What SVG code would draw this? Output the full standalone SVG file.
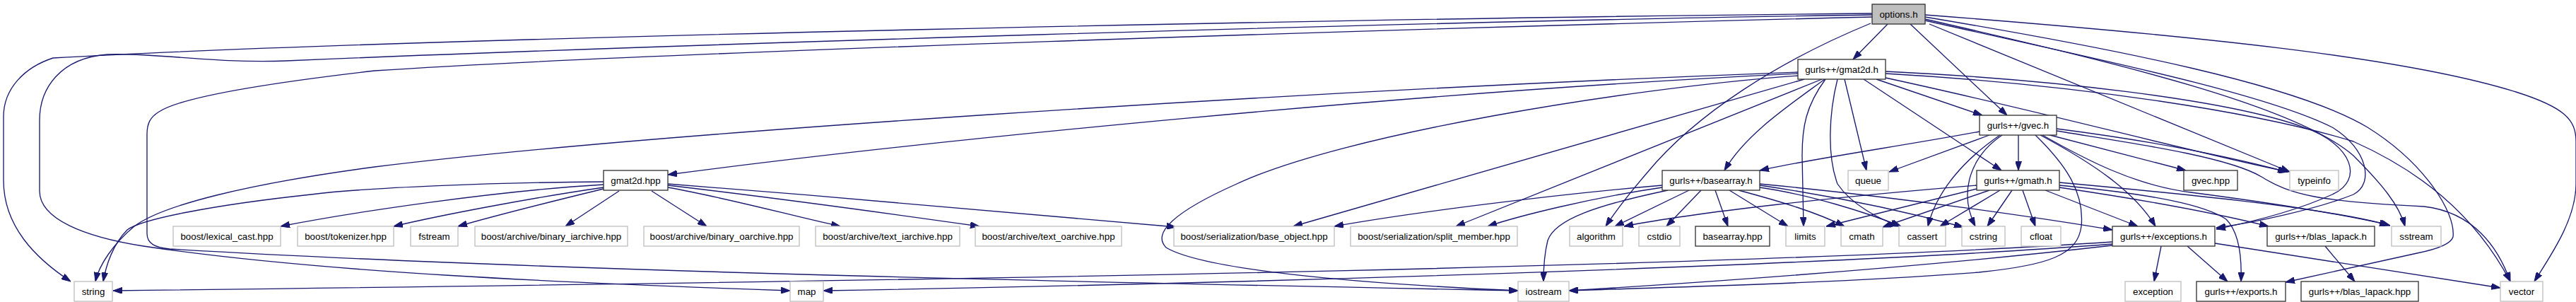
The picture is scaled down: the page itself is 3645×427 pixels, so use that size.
<svg xmlns="http://www.w3.org/2000/svg" width="3645" height="427" viewBox="0 0 3645 427">
<defs>
<marker id="ah" viewBox="0 0 13 9" refX="13" refY="4.5" markerWidth="13" markerHeight="9" markerUnits="userSpaceOnUse" orient="auto"><path d="M0,0 L13,4.5 L0,9 z" fill="#191970" stroke="#191970" stroke-width="1"/></marker>
<style>
.e path{fill:none;stroke:#191970;stroke-width:1.33;marker-end:url(#ah)}
.d rect{fill:#fff;stroke:#333;stroke-width:1.33}
.x rect{fill:#fff;stroke:#bfbfbf;stroke-width:1.33}
.r rect{fill:#bfbfbf;stroke:#333;stroke-width:1.33}
text{font-family:"Liberation Sans",Arial,Helvetica,sans-serif;font-size:13.33px;fill:#000;text-anchor:middle}
</style>
</defs>
<rect width="3645" height="427" fill="#fff"/>
<g id="edges" class="e">
<path d="M2671,34 L2622,84"/>
<path d="M2703,34 L2840,163"/>
<path d="M2647,33 C2520,85 2400,160 2330,245 C2300,280 2285,300 2272,320"/>
<path d="M2649,19 C2000,25 600,52 75,82 C35,95 5,125 5,165 L5,255 C5,320 50,365 100,398"/>
<path d="M2649,21 C2000,30 900,65 405,86 C300,90 220,74 152,77 C85,82 56,125 56,170 L56,270 C56,310 120,335 203,348 C450,385 800,400 1118,411"/>
<path d="M2649,24 C2000,40 900,75 530,100 C400,115 260,135 225,158 C212,166 208,175 208,190 L208,330 C208,345 220,350 240,352 C800,385 1600,400 2148,411"/>
<path d="M2724,21 C3100,50 3400,80 3560,130 C3630,152 3645,170 3645,200 L3645,260 C3645,310 3610,360 3586,398"/>
<path d="M2724,24 C3000,70 3250,120 3350,180 C3430,230 3475,300 3471,335 C3468,345 3450,352 3420,358 L3234,399"/>
<path d="M2724,27 C3000,90 3250,150 3330,220 C3370,260 3395,290 3403,320"/>
<path d="M2724,29 C2950,80 3200,130 3300,180 C3350,210 3360,260 3330,275 C3280,295 3190,315 3136,322"/>
<path d="M2730,34 L3240,243"/>
<path d="M2544,104 C2000,130 1300,200 945,247"/>
<path d="M2544,102 C1800,130 900,190 530,236 C350,260 230,290 190,320 C160,345 140,375 135,398"/>
<path d="M2544,107 C2300,125 1900,190 1750,260 C1660,300 1630,330 1650,350 C1700,380 1900,400 2148,411"/>
<path d="M2553,112 L1830,320"/>
<path d="M2578,112 L2060,320"/>
<path d="M2582,112 C2530,150 2470,190 2440,241"/>
<path d="M2583,112 C2555,150 2550,180 2550,220 L2552,320"/>
<path d="M2600,112 C2588,160 2585,220 2600,260 C2620,290 2660,310 2688,320"/>
<path d="M2610,112 L2641,241"/>
<path d="M2637,112 L2832,241"/>
<path d="M2655,112 L2805,163"/>
<path d="M2668,110 C2900,160 3100,215 3238,243"/>
<path d="M2668,101 C2900,112 3150,140 3260,180 C3330,205 3345,255 3300,275 C3250,298 3180,315 3136,324"/>
<path d="M2668,104 C2950,120 3200,160 3330,200 C3420,240 3500,300 3552,398"/>
<path d="M854,257 C700,258 520,265 440,275 C300,290 200,310 180,325 C160,345 150,375 146,398"/>
<path d="M854,261 C700,270 500,300 397,320"/>
<path d="M854,265 C750,280 620,305 557,320"/>
<path d="M854,267 C780,285 700,305 648,320"/>
<path d="M876,270 L800,320"/>
<path d="M922,270 L1000,320"/>
<path d="M945,265 C1030,280 1120,305 1189,320"/>
<path d="M945,262 C1100,280 1280,305 1386,320"/>
<path d="M945,260 C1200,280 1500,305 1664,321"/>
<path d="M2801,186 C2700,205 2560,225 2490,241"/>
<path d="M2815,191 L2673,243"/>
<path d="M2856,191 L2856,241"/>
<path d="M2830,191 C2780,225 2740,270 2728,320"/>
<path d="M2833,191 C2790,220 2770,270 2795,320"/>
<path d="M2880,191 C2920,230 2950,270 2945,320 C2940,360 2900,375 2800,385 C2600,400 2400,405 2220,411"/>
<path d="M2887,191 C2960,230 3020,270 3050,320"/>
<path d="M2893,189 L3093,241"/>
<path d="M2910,182 C3050,200 3150,220 3236,243"/>
<path d="M2910,185 C3000,200 3150,220 3200,250 C3240,275 3280,285 3430,292 C3500,300 3535,350 3552,398"/>
<path d="M2890,191 C2950,225 3020,262 3100,272 C3200,285 3300,300 3380,318"/>
<path d="M2352,262 C2200,275 2000,300 1888,320"/>
<path d="M2352,265 C2250,280 2150,305 2105,320"/>
<path d="M2360,269 C2260,290 2200,310 2190,340 C2185,360 2184,380 2184,398"/>
<path d="M2390,269 L2285,320"/>
<path d="M2407,269 L2358,320"/>
<path d="M2427,269 L2445,320"/>
<path d="M2447,269 L2530,320"/>
<path d="M2460,269 C2520,285 2570,300 2610,320"/>
<path d="M2490,265 C2560,275 2640,300 2690,320"/>
<path d="M2490,262 C2600,278 2700,300 2778,321"/>
<path d="M2490,260 C2700,280 2900,310 2989,325"/>
<path d="M2797,262 C2600,278 2400,300 2298,320"/>
<path d="M2797,267 L2584,320"/>
<path d="M2815,269 L2664,321"/>
<path d="M2830,269 L2745,320"/>
<path d="M2847,269 L2812,320"/>
<path d="M2862,269 L2880,320"/>
<path d="M2894,269 L3025,320"/>
<path d="M2914,258 C3100,275 3300,295 3382,319"/>
<path d="M2914,262 C3050,275 3120,290 3150,310 C3170,330 3172,370 3171,398"/>
<path d="M2914,265 C3050,285 3150,305 3210,320"/>
<path d="M3058,348 L3048,398"/>
<path d="M3095,348 L3152,398"/>
<path d="M3134,344 L3538,407"/>
<path d="M2989,342 C2500,375 1500,395 160,411"/>
<path d="M2989,345 C2600,375 1800,400 1165,411"/>
<path d="M2989,347 C2700,380 2400,400 2220,411"/>
<path d="M3290,348 L3332,398"/>
</g>
<g id="n_options" class="r"><rect x="2649" y="6" width="75" height="28"/><text x="2686.5" y="24.8">options.h</text></g>
<g id="n_gmat2d_h" class="d"><rect x="2544" y="84" width="124" height="28"/><text x="2606" y="102.8">gurls++/gmat2d.h</text></g>
<g id="n_gvec_h" class="d"><rect x="2801" y="163" width="109" height="28"/><text x="2855.5" y="181.8">gurls++/gvec.h</text></g>
<g id="n_gmat2d_hpp" class="d"><rect x="854" y="241" width="91" height="28"/><text x="899.5" y="259.8">gmat2d.hpp</text></g>
<g id="n_basearray_h" class="d"><rect x="2352" y="241" width="138" height="28"/><text x="2421" y="259.8">gurls++/basearray.h</text></g>
<g id="n_queue" class="x"><rect x="2615" y="241" width="57" height="28"/><text x="2643.5" y="259.8">queue</text></g>
<g id="n_gmath_h" class="d"><rect x="2797" y="241" width="117" height="28"/><text x="2855.5" y="259.8">gurls++/gmath.h</text></g>
<g id="n_gvec_hpp" class="d"><rect x="3090" y="241" width="76" height="28"/><text x="3128" y="259.8">gvec.hpp</text></g>
<g id="n_typeinfo" class="x"><rect x="3240" y="241" width="69" height="28"/><text x="3274.5" y="259.8">typeinfo</text></g>
<g id="n_lexical_cast" class="x"><rect x="245" y="320" width="152" height="28"/><text x="321" y="338.8">boost/lexical_cast.hpp</text></g>
<g id="n_tokenizer" class="x"><rect x="421" y="320" width="136" height="28"/><text x="489" y="338.8">boost/tokenizer.hpp</text></g>
<g id="n_fstream" class="x"><rect x="581" y="320" width="67" height="28"/><text x="614.5" y="338.8">fstream</text></g>
<g id="n_binary_iarchive" class="x"><rect x="672" y="320" width="216" height="28"/><text x="780" y="338.8">boost/archive/binary_iarchive.hpp</text></g>
<g id="n_binary_oarchive" class="x"><rect x="911" y="320" width="220" height="28"/><text x="1021" y="338.8">boost/archive/binary_oarchive.hpp</text></g>
<g id="n_text_iarchive" class="x"><rect x="1154" y="320" width="204" height="28"/><text x="1256" y="338.8">boost/archive/text_iarchive.hpp</text></g>
<g id="n_text_oarchive" class="x"><rect x="1380" y="320" width="207" height="28"/><text x="1483.5" y="338.8">boost/archive/text_oarchive.hpp</text></g>
<g id="n_base_object" class="x"><rect x="1661" y="320" width="227" height="28"/><text x="1774.5" y="338.8">boost/serialization/base_object.hpp</text></g>
<g id="n_split_member" class="x"><rect x="1911" y="320" width="236" height="28"/><text x="2029" y="338.8">boost/serialization/split_member.hpp</text></g>
<g id="n_algorithm" class="x"><rect x="2221" y="320" width="75" height="28"/><text x="2258.5" y="338.8">algorithm</text></g>
<g id="n_cstdio" class="x"><rect x="2319" y="320" width="58" height="28"/><text x="2348" y="338.8">cstdio</text></g>
<g id="n_basearray_hpp" class="d"><rect x="2399" y="320" width="105" height="28"/><text x="2451.5" y="338.8">basearray.hpp</text></g>
<g id="n_limits" class="x"><rect x="2527" y="320" width="55" height="28"/><text x="2554.5" y="338.8">limits</text></g>
<g id="n_cmath" class="x"><rect x="2605" y="320" width="59" height="28"/><text x="2634.5" y="338.8">cmath</text></g>
<g id="n_cassert" class="x"><rect x="2687" y="320" width="66" height="28"/><text x="2720" y="338.8">cassert</text></g>
<g id="n_cstring" class="x"><rect x="2776" y="320" width="61" height="28"/><text x="2806.5" y="338.8">cstring</text></g>
<g id="n_cfloat" class="x"><rect x="2860" y="320" width="56" height="28"/><text x="2888" y="338.8">cfloat</text></g>
<g id="n_exceptions_h" class="d"><rect x="2989" y="320" width="145" height="28"/><text x="3061.5" y="338.8">gurls++/exceptions.h</text></g>
<g id="n_blas_lapack_h" class="d"><rect x="3208" y="320" width="152" height="28"/><text x="3284" y="338.8">gurls++/blas_lapack.h</text></g>
<g id="n_sstream" class="x"><rect x="3384" y="320" width="70" height="28"/><text x="3419" y="338.8">sstream</text></g>
<g id="n_string" class="x"><rect x="105" y="398" width="54" height="28"/><text x="132" y="416.8">string</text></g>
<g id="n_map" class="x"><rect x="1118" y="398" width="47" height="28"/><text x="1141.5" y="416.8">map</text></g>
<g id="n_iostream" class="x"><rect x="2148" y="398" width="72" height="28"/><text x="2184" y="416.8">iostream</text></g>
<g id="n_exception" class="x"><rect x="3007" y="398" width="79" height="28"/><text x="3046.5" y="416.8">exception</text></g>
<g id="n_exports_h" class="d"><rect x="3108" y="398" width="126" height="28"/><text x="3171" y="416.8">gurls++/exports.h</text></g>
<g id="n_blas_lapack_hpp" class="d"><rect x="3256" y="398" width="166" height="28"/><text x="3339" y="416.8">gurls++/blas_lapack.hpp</text></g>
<g id="n_vector" class="x"><rect x="3538" y="398" width="60" height="28"/><text x="3568" y="416.8">vector</text></g>
</svg>
